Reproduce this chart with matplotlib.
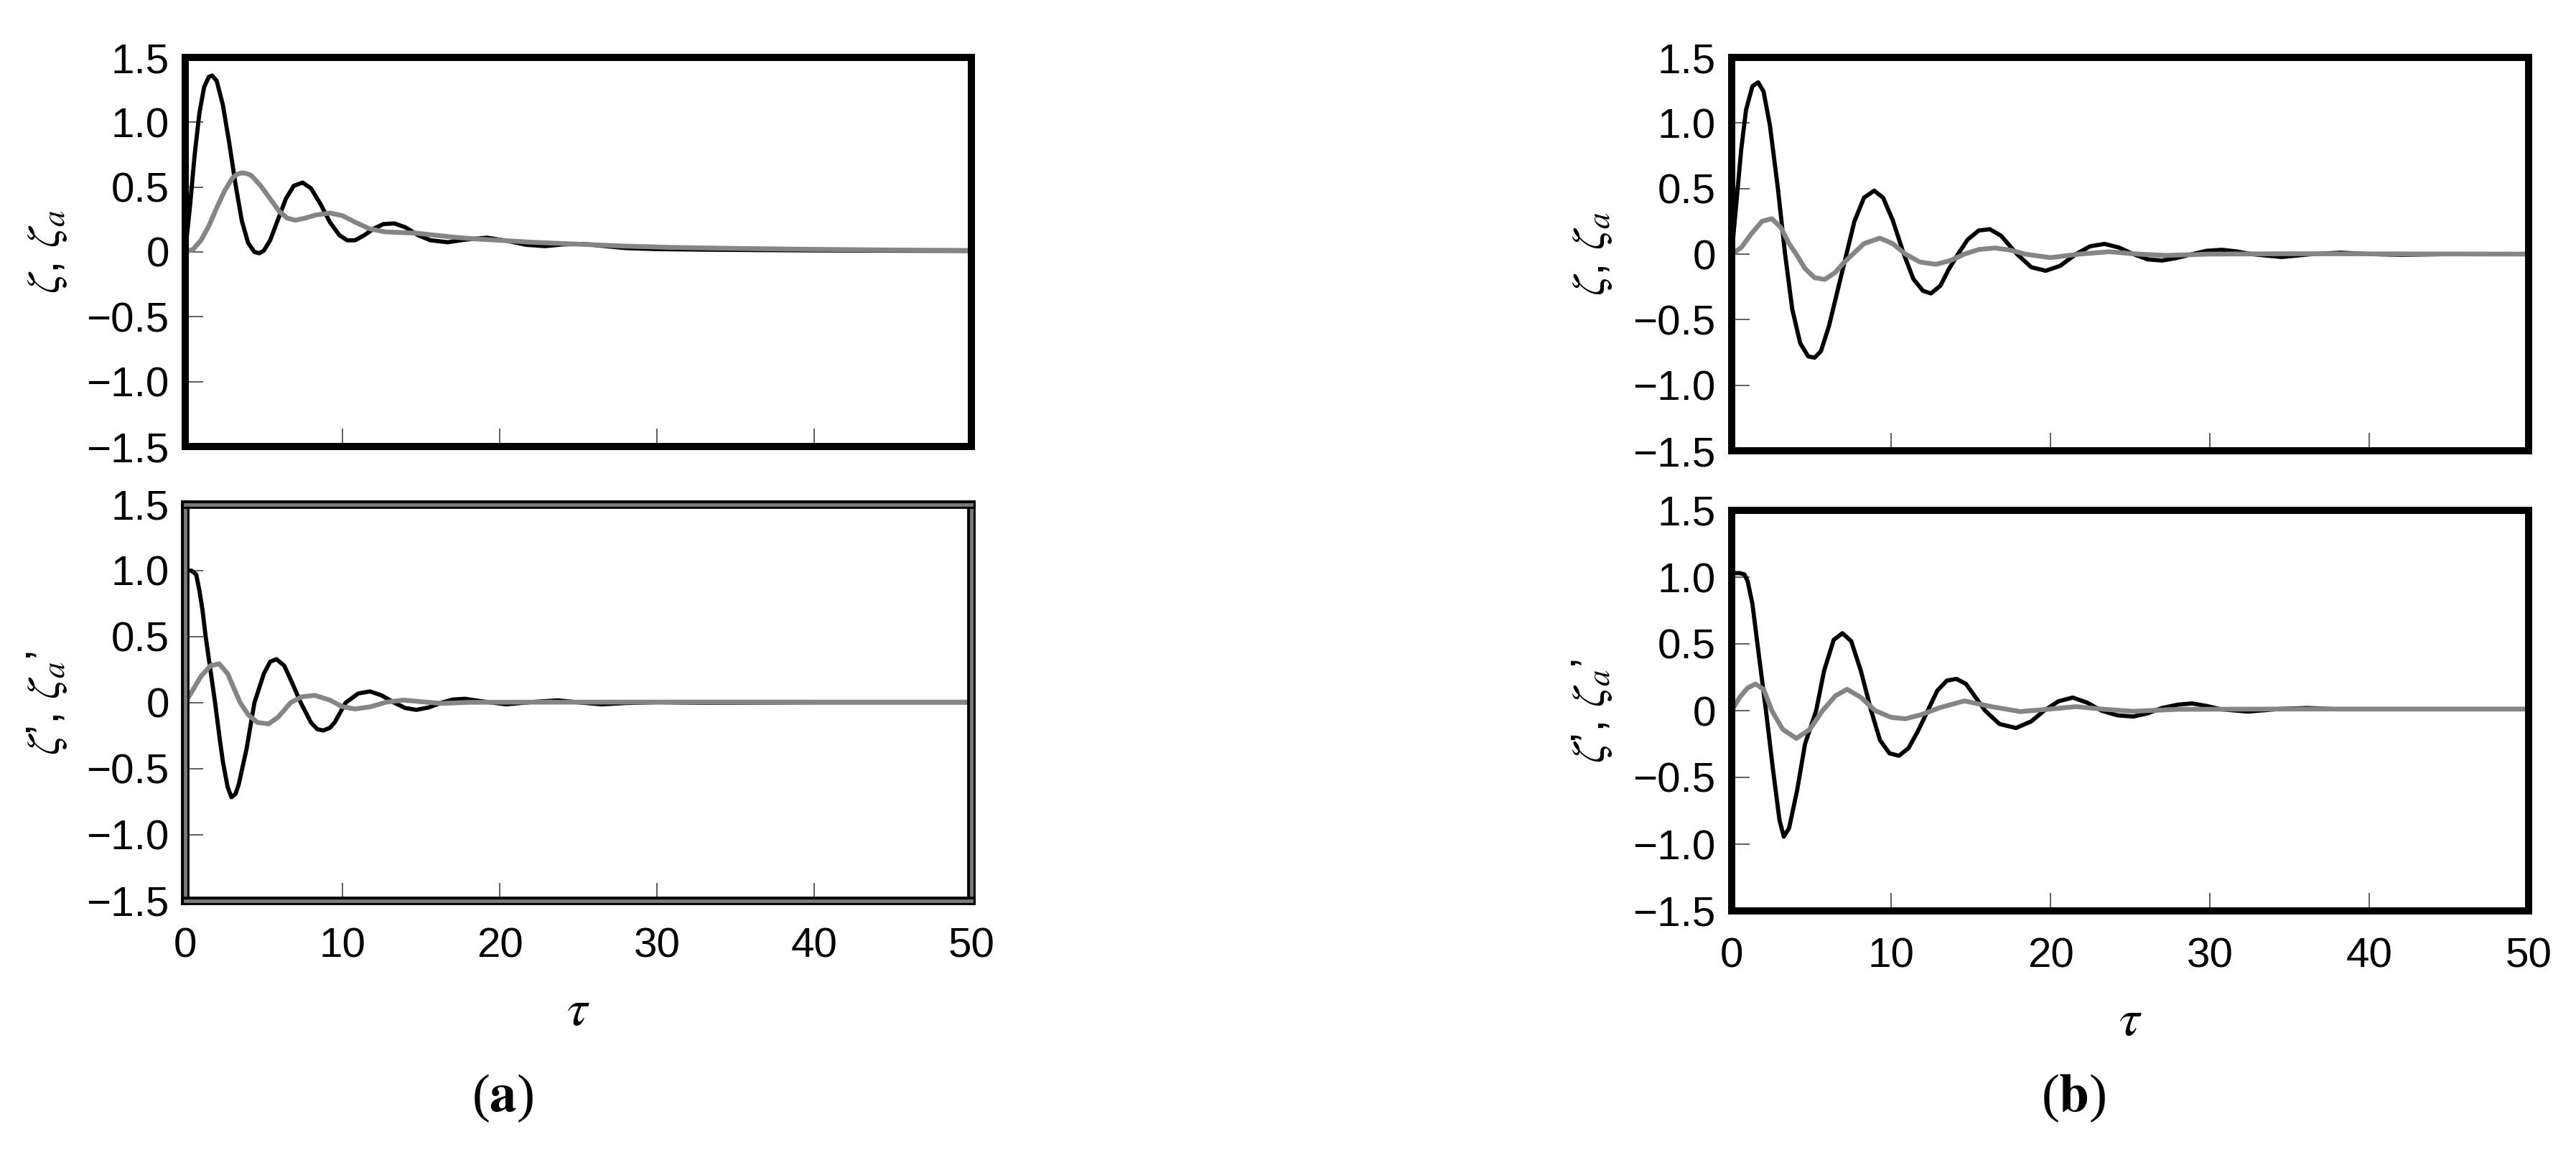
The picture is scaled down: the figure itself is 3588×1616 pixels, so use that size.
import matplotlib
matplotlib.use("Agg")
import matplotlib.pyplot as plt
import matplotlib.patheffects as pe

# Values: (tau, value) pairs.
# (a) top: zeta (black) and zeta_a (grey)
a_top_t = [0, 0.3, 0.6, 0.9, 1.2, 1.5, 1.71, 2.0, 2.4, 2.8, 3.2, 3.6, 4.0, 4.4, 4.7, 5.0,
           5.4, 5.9, 6.4, 6.9, 7.47, 8.0, 8.6, 9.2, 9.8, 10.3, 10.8, 11.4, 12.0, 12.6,
           13.3, 14.0, 14.8, 15.6, 16.7, 17.8, 19.2, 20.5, 21.7, 22.9, 24.0, 25.3, 26.7,
           28.0, 30, 33, 36, 40, 45, 50]
a_top_z = [0, 0.35, 0.75, 1.07, 1.27, 1.35, 1.36, 1.32, 1.13, 0.84, 0.52, 0.24, 0.07, 0.0,
           -0.01, 0.01, 0.09, 0.25, 0.41, 0.51, 0.535, 0.49, 0.37, 0.23, 0.13, 0.09, 0.09,
           0.13, 0.18, 0.215, 0.22, 0.19, 0.13, 0.09, 0.075, 0.095, 0.11, 0.085, 0.055,
           0.045, 0.058, 0.062, 0.045, 0.03, 0.022, 0.018, 0.015, 0.012, 0.01, 0.008]
a_top_ta = [0, 0.5, 1.0, 1.5, 2.0, 2.5, 3.0, 3.3, 3.6, 3.9, 4.2, 4.8, 5.4, 6.0, 6.5, 7.0,
            7.6, 8.3, 9.2, 10.0, 10.8, 11.7, 12.7, 13.7, 14.7, 15.8, 17, 18.5, 20, 22, 25,
            28, 31, 35, 40, 45, 50]
a_top_za = [0, 0.02, 0.09, 0.2, 0.34, 0.47, 0.57, 0.6, 0.61, 0.605, 0.59, 0.51, 0.41, 0.31,
            0.26, 0.245, 0.26, 0.285, 0.30, 0.28, 0.23, 0.18, 0.155, 0.15, 0.145, 0.13,
            0.115, 0.1, 0.09, 0.075, 0.06, 0.045, 0.035, 0.027, 0.02, 0.015, 0.012]

# (a) bottom: zeta' (black) and zeta_a' (grey)
a_bot_t = [0, 0.4, 0.7, 0.9, 1.1, 1.3, 1.6, 1.9, 2.2, 2.4, 2.7, 2.94, 3.2, 3.4, 3.9, 4.4,
           5.0, 5.4, 5.8, 6.3, 6.8, 7.35, 8.0, 8.4, 8.78, 9.2, 9.5, 10.2, 11.0, 11.75, 12.5,
           13.3, 14.0, 14.7, 15.5, 16.3, 17.0, 17.8, 18.8, 20.4, 22.0, 23.7, 25.0, 26.5,
           28.0, 30, 33, 40, 50]
a_bot_z = [1.0, 1.0, 0.97, 0.85, 0.7, 0.5, 0.25, 0.0, -0.28, -0.45, -0.64, -0.715, -0.69,
           -0.62, -0.35, 0.0, 0.22, 0.31, 0.33, 0.28, 0.15, 0.0, -0.15, -0.2, -0.21, -0.19,
           -0.15, 0.0, 0.07, 0.086, 0.055, 0.0, -0.04, -0.054, -0.035, 0.0, 0.024, 0.03,
           0.012, -0.012, 0.005, 0.018, 0.003, -0.012, -0.002, 0.004, 0.0, 0.003, 0.003]
a_bot_ta = [0, 0.5, 1.0, 1.6, 2.16, 2.7, 3.2, 3.5, 4.0, 4.6, 5.3, 5.9, 6.7, 7.4, 8.24, 9.2,
            10.0, 10.8, 11.8, 12.8, 13.9, 15.0, 16.3, 18, 20, 30, 50]
a_bot_za = [0, 0.1, 0.2, 0.28, 0.295, 0.22, 0.08, 0.0, -0.09, -0.15, -0.16, -0.11, 0.0,
            0.045, 0.056, 0.02, -0.03, -0.047, -0.03, 0.005, 0.02, 0.008, -0.005, 0.003,
            0.004, 0.005, 0.005]

# (b) top
b_top_t = [0, 0.3, 0.6, 0.9, 1.3, 1.66, 2.0, 2.4, 2.9, 3.35, 3.8, 4.3, 4.8, 5.2, 5.6, 6.1,
           6.6, 7.2, 7.7, 8.3, 8.94, 9.5, 10.1, 10.8, 11.4, 12.0, 12.5, 13.1, 13.6, 14.2,
           14.8, 15.5, 16.2, 16.9, 17.9, 18.8, 19.7, 20.6, 21.6, 22.5, 23.4, 24.3, 25.2,
           26.1, 27.0, 27.9, 28.9, 29.8, 30.75, 31.7, 32.6, 34.5, 36.4, 38.2, 40, 42, 45, 50]
b_top_z = [0, 0.4, 0.8, 1.1, 1.28, 1.31, 1.24, 0.98, 0.5, 0.0, -0.42, -0.68, -0.78, -0.79,
           -0.74, -0.55, -0.3, 0.0, 0.25, 0.43, 0.484, 0.43, 0.26, 0.0, -0.19, -0.28, -0.30,
           -0.24, -0.12, 0.0, 0.11, 0.18, 0.19, 0.14, 0.0, -0.1, -0.127, -0.09, 0.0, 0.06,
           0.078, 0.05, 0.0, -0.04, -0.049, -0.03, 0.0, 0.025, 0.033, 0.02, 0.0, -0.022,
           0.0, 0.011, 0.0, -0.005, 0.0, 0.0]
b_top_ta = [0, 0.6, 1.2, 1.9, 2.52, 3.1, 3.6, 4.05, 4.6, 5.2, 5.84, 6.5, 7.0, 7.6, 8.3, 9.3,
            10.1, 10.9, 11.8, 12.8, 13.7, 14.6, 15.5, 16.5, 17.5, 18.4, 20.0, 21.8, 23.7,
            25.5, 27.2, 30, 35, 50]
b_top_za = [0, 0.05, 0.15, 0.25, 0.27, 0.2, 0.08, 0.0, -0.11, -0.18, -0.193, -0.14, -0.07,
            0.0, 0.08, 0.122, 0.08, 0.0, -0.06, -0.078, -0.05, 0.0, 0.035, 0.047, 0.03, 0.0,
            -0.027, 0.0, 0.018, 0.0, -0.01, 0.0, 0.003, 0.0]

# (b) bottom
b_bot_t = [0, 0.5, 0.8, 1.0, 1.3, 1.7, 2.15, 2.6, 3.0, 3.27, 3.6, 4.1, 4.6, 5.3, 5.8, 6.4,
           6.95, 7.5, 8.1, 8.75, 9.3, 9.9, 10.5, 11.1, 11.7, 12.3, 12.9, 13.5, 14.1, 14.7,
           15.3, 15.9, 16.8, 17.84, 18.8, 19.6, 20.5, 21.4, 22.3, 23.2, 24.2, 25.2, 26.1,
           27.0, 28.0, 28.9, 29.8, 30.7, 32.4, 34.3, 36.1, 38, 40, 50]
b_bot_z = [1.03, 1.03, 1.02, 0.97, 0.8, 0.42, 0.0, -0.45, -0.82, -0.944, -0.88, -0.6,
           -0.25, 0.0, 0.3, 0.53, 0.58, 0.52, 0.3, 0.0, -0.22, -0.32, -0.338, -0.28, -0.15,
           0.0, 0.15, 0.225, 0.238, 0.2, 0.1, 0.0, -0.1, -0.13, -0.08, 0.0, 0.07, 0.098,
           0.06, 0.0, -0.035, -0.044, -0.02, 0.02, 0.045, 0.054, 0.035, 0.01, -0.007,
           0.012, 0.02, 0.01, 0.01, 0.01]
b_bot_ta = [0, 0.5, 1.0, 1.49, 2.0, 2.52, 3.2, 4.06, 4.9, 5.7, 6.5, 7.24, 8.1, 9.0, 10.0,
            10.9, 11.9, 13.0, 14.6, 16.3, 18.1, 19.8, 21.6, 23.4, 25.2, 28, 35, 50]
b_bot_za = [0, 0.1, 0.17, 0.2, 0.16, 0.0, -0.14, -0.208, -0.14, 0.0, 0.11, 0.16, 0.1, 0.0,
            -0.05, -0.061, -0.03, 0.02, 0.073, 0.03, -0.007, 0.01, 0.03, 0.01, -0.005,
            0.01, 0.012, 0.012]

yticks = [-1.5, -1.0, -0.5, 0, 0.5, 1.0, 1.5]
ytick_labels = ["\u22121.5", "\u22121.0", "\u22120.5", "0", "0.5", "1.0", "1.5"]
xticks = [0, 10, 20, 30, 40, 50]
xtick_labels = ["0", "10", "20", "30", "40", "50"]

plt.rcParams["font.family"] = ["Liberation Sans", "DejaVu Sans"]
plt.rcParams["mathtext.fontset"] = "stix"

fig = plt.figure(figsize=(35.88, 16.16), dpi=100)

W, H = 3588, 1616


def box(x0, x1, y0, y1):
    return [x0 / W, 1 - y1 / H, (x1 - x0) / W, (y1 - y0) / H]


ax_at = fig.add_axes(box(258, 1353, 80, 622))
ax_ab = fig.add_axes(box(258, 1353, 703, 1255))
ax_bt = fig.add_axes(box(2412, 3522, 80, 628))
ax_bb = fig.add_axes(box(2412, 3522, 711, 1269))

panels = [
    (ax_at, a_top_t, a_top_z, a_top_ta, a_top_za, r"$\zeta$, $\zeta_a$", False),
    (ax_ab, a_bot_t, a_bot_z, a_bot_ta, a_bot_za, r"$\zeta$’, $\zeta_a$’", True),
    (ax_bt, b_top_t, b_top_z, b_top_ta, b_top_za, r"$\zeta$, $\zeta_a$", False),
    (ax_bb, b_bot_t, b_bot_z, b_bot_ta, b_bot_za, r"$\zeta$’, $\zeta_a$’", True),
]

for ax, t, z, ta, za, ylab, bottom in panels:
    ax.plot(t, z, color="black", lw=4.2, solid_joinstyle="round")
    ax.plot(ta, za, color="#858585", lw=4.8, solid_joinstyle="round")
    ax.set_xlim(0, 50)
    ax.set_ylim(-1.5, 1.5)
    ax.set_yticks(yticks)
    ax.set_yticklabels(ytick_labels)
    ax.set_xticks(xticks)
    if bottom:
        ax.set_xticklabels(xtick_labels)
        ax.set_xlabel(r"$\tau$", fontsize=52, labelpad=22)
    else:
        ax.set_xticklabels([])
    ax.tick_params(direction="in", length=18, width=1.1, color="#333333",
                   labelsize=42, pad=16, top=False, right=False)
    ax.tick_params(axis="x", pad=26)
    for s in ax.spines.values():
        s.set_linewidth(7.2)
        s.set_color("black")
    ax.set_ylabel(ylab, fontsize=46, rotation=90)
    ax.yaxis.set_label_coords(-0.148, 0.5)

# double-tone frame on the lower left panel
for s in ax_ab.spines.values():
    s.set_path_effects([pe.Stroke(linewidth=8.5, foreground="black"),
                        pe.Stroke(linewidth=3.5, foreground="#7a7a7a")])

fig.text(700 / W, 1 - 1530 / H, r"($\mathbf{a}$)", fontsize=54, ha="center", va="center",
         family="Liberation Serif")
fig.text(2888 / W, 1 - 1530 / H, r"($\mathbf{b}$)", fontsize=54, ha="center", va="center",
         family="Liberation Serif")

fig.savefig("out.png", dpi=100)
